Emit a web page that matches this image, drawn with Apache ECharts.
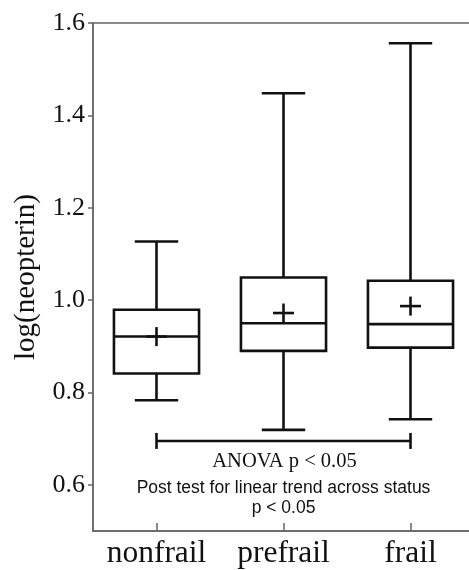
<!DOCTYPE html>
<html>
<head>
<meta charset="utf-8">
<script src="https://cdn.jsdelivr.net/npm/echarts@6/dist/echarts.min.js"></script>
<style>html,body{margin:0;padding:0;background:#fff;overflow:hidden}#c{width:469px;height:570px}</style>
</head>
<body>
<div id="c"></div>
<script>
// Categories and box statistics
const categories = ['nonfrail', 'prefrail', 'frail'];
const whiskerLow  = [0.783, 0.719, 0.742];
const q1Values    = [0.841, 0.890, 0.897];
const medians     = [0.921, 0.950, 0.948];
const q3Values    = [0.979, 1.049, 1.042];
const whiskerHigh = [1.127, 1.448, 1.556];
const means       = [0.921, 0.972, 0.987];
const yTicks = [0.6, 0.8, 1.0, 1.2, 1.4, 1.6];
// Significance bracket: from category index to category index at value
const bracketFrom = [0];
const bracketTo = [2];
const bracketValue = [0.695];
const annotationLines = ['ANOVA p < 0.05', 'Post test for linear trend across status', 'p < 0.05'];

const boxData = categories.map((c, i) => [i, whiskerLow[i], q1Values[i], medians[i], q3Values[i], whiskerHigh[i], means[i]]);
const bracketData = bracketFrom.map((f, i) => [f, bracketTo[i], bracketValue[i]]);

const LINE = '#111';
const LW = 2.6;
const AX = '#666';

const chart = echarts.init(document.getElementById('c'), null, {renderer: 'canvas'});
chart.setOption({
  animation: false,
  backgroundColor: '#fff',
  grid: {left: 93, top: 23, width: 381, bottom: 39, containLabel: false, outerBoundsMode: 'none',
    show: true, borderColor: AX, borderWidth: 1.5, backgroundColor: 'transparent'},
  xAxis: {
    type: 'category', data: categories,
    axisLine: {show: true, lineStyle: {color: AX, width: 1.5}},
    axisTick: {show: true, inside: true, alignWithLabel: true, length: 8, lineStyle: {color: AX, width: 1.5}},
    axisLabel: {fontFamily: 'Liberation Serif', fontSize: 31.5, color: '#111', margin: 7, interval: 0, hideOverlap: false},
    splitLine: {show: false}
  },
  yAxis: {
    type: 'value', min: 0.5, max: 1.6,
    name: 'log(neopterin)', nameLocation: 'middle', nameGap: 52,
    nameTextStyle: {fontFamily: 'Liberation Serif', fontSize: 29, color: '#111'},
    axisLine: {show: true, lineStyle: {color: AX, width: 1.5}},
    axisTick: {show: true, length: 5, customValues: yTicks, lineStyle: {color: AX, width: 1.5}},
    axisLabel: {fontFamily: 'Liberation Serif', fontSize: 26, color: '#111', margin: 8, customValues: yTicks,
      formatter: v => Number(v).toFixed(1)},
    splitLine: {show: false}
  },
  series: [
    {
      type: 'custom',
      data: boxData,
      encode: {x: 0, y: [1, 2, 3, 4, 5, 6]},
      renderItem: function (params, api) {
        const x = api.value(0);
        const band = api.size([1, 0])[0];
        const bw = band * 0.67;
        const cw = bw * 0.51;
        const pLow = api.coord([x, api.value(1)]);
        const pQ1 = api.coord([x, api.value(2)]);
        const pMed = api.coord([x, api.value(3)]);
        const pQ3 = api.coord([x, api.value(4)]);
        const pHigh = api.coord([x, api.value(5)]);
        const pMean = api.coord([x, api.value(6)]);
        const cx = pMed[0];
        const st = {stroke: LINE, lineWidth: LW, fill: null};
        const ln = (x1, y1, x2, y2) => ({type: 'line', shape: {x1, y1, x2, y2}, style: st});
        return {
          type: 'group',
          children: [
            {type: 'rect', shape: {x: cx - bw / 2, y: pQ3[1], width: bw, height: pQ1[1] - pQ3[1]}, style: {stroke: LINE, lineWidth: LW, fill: null}},
            ln(cx - bw / 2, pMed[1], cx + bw / 2, pMed[1]),
            ln(cx, pQ3[1], cx, pHigh[1]),
            ln(cx, pQ1[1], cx, pLow[1]),
            ln(cx - cw / 2, pHigh[1], cx + cw / 2, pHigh[1]),
            ln(cx - cw / 2, pLow[1], cx + cw / 2, pLow[1]),
            ln(cx - 10.5, pMean[1], cx + 10.5, pMean[1]),
            ln(cx, pMean[1] - 9.5, cx, pMean[1] + 9.5)
          ]
        };
      }
    },
    {
      type: 'custom',
      data: bracketData,
      encode: {x: [0, 1], y: 2},
      renderItem: function (params, api) {
        const a = api.coord([api.value(0), api.value(2)]);
        const b = api.coord([api.value(1), api.value(2)]);
        const st = {stroke: LINE, lineWidth: LW, fill: null};
        const mid = (a[0] + b[0]) / 2;
        return {
          type: 'group',
          children: [
            {type: 'line', shape: {x1: a[0], y1: a[1], x2: b[0], y2: b[1]}, style: st},
            {type: 'line', shape: {x1: a[0], y1: a[1] - 8, x2: a[0], y2: a[1] + 8}, style: st},
            {type: 'line', shape: {x1: b[0], y1: b[1] - 8, x2: b[0], y2: b[1] + 8}, style: st},
            {type: 'text', style: {x: mid + 1, y: a[1] + 21, text: annotationLines[0], align: 'center', verticalAlign: 'middle',
              font: '20.5px "Liberation Serif"', fill: '#111'}},
            {type: 'text', style: {x: mid, y: a[1] + 47, text: annotationLines[1], align: 'center', verticalAlign: 'middle',
              font: '17.5px "Liberation Sans"', fill: '#111'}},
            {type: 'text', style: {x: mid, y: a[1] + 67, text: annotationLines[2], align: 'center', verticalAlign: 'middle',
              font: '17.5px "Liberation Sans"', fill: '#111'}}
          ]
        };
      }
    }
  ]
});
</script>
</body>
</html>
